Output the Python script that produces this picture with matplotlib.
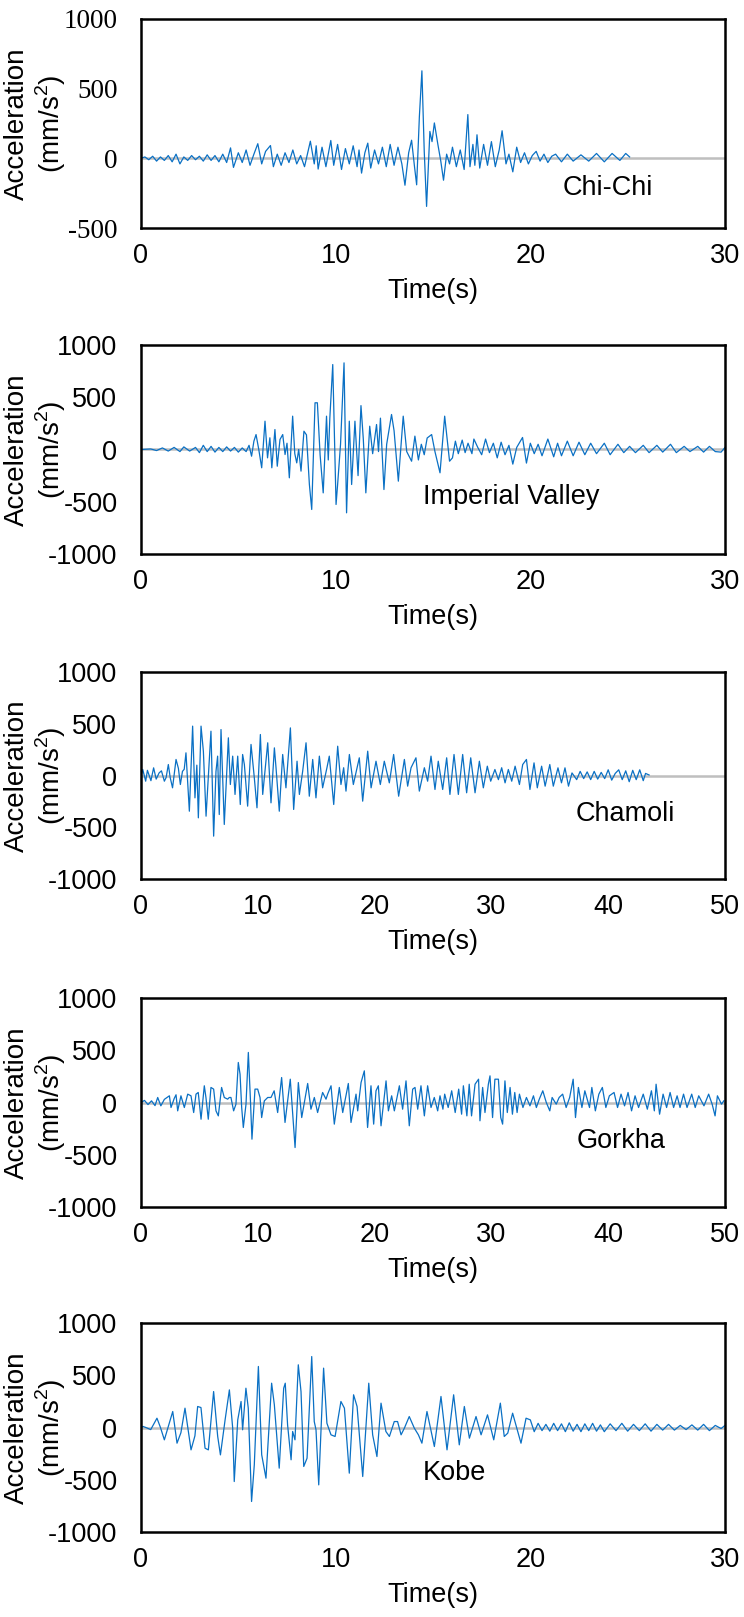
import matplotlib
matplotlib.use('Agg')
import matplotlib.pyplot as plt

plt.rcParams['font.family'] = ['Liberation Sans', 'DejaVu Sans']
plt.rcParams['font.size'] = 19.5
plt.rcParams['axes.unicode_minus'] = False
plt.rcParams['mathtext.fontset'] = 'custom'
plt.rcParams['mathtext.rm'] = 'Liberation Sans'

# (time s, acceleration mm/s2)
chichi = [(0.0, 0), (0.2, 10), (0.4, -10), (0.6, 15), (0.8, -20), (1.0, 10), (1.2, -15), (1.4, 20),
          (1.6, -25), (1.8, 30), (2.0, -40), (2.2, 10), (2.4, -15), (2.6, 20), (2.8, -10), (3.0, 15),
          (3.2, -20), (3.4, 25), (3.6, -15), (3.8, 20), (4.0, -25), (4.2, 30), (4.4, -30), (4.6, 75),
          (4.75, -65), (5.0, 40), (5.2, -30), (5.4, 60), (5.6, -50), (5.8, 30), (6.0, 105), (6.2, -40),
          (6.4, 50), (6.65, 92), (6.8, -60), (7.0, 30), (7.2, -50), (7.4, 40), (7.6, -30), (7.8, 60),
          (8.0, -40), (8.2, 20), (8.4, -60), (8.7, 123), (8.9, -40), (9.0, 90), (9.1, -77), (9.3, 80),
          (9.5, -60), (9.75, 128), (9.9, -50), (10.1, 100), (10.3, -80), (10.5, 70), (10.7, -40),
          (10.9, 90), (11.1, -60), (11.2, 60), (11.33, -106), (11.5, 40), (11.65, 109), (11.8, -70),
          (12.0, 60), (12.2, -40), (12.4, 80), (12.6, -60), (12.8, 100), (13.0, -50), (13.2, 80),
          (13.4, -40), (13.56, -193), (13.75, 40), (13.9, 130), (14.05, -60), (14.16, -190),
          (14.3, 300), (14.43, 628), (14.55, 50), (14.67, -345), (14.84, 193), (14.95, 120),
          (15.07, 254), (15.25, 100), (15.4, -20), (15.54, -157), (15.7, 30), (15.85, -40), (16.0, 80),
          (16.2, -60), (16.4, 60), (16.6, -80), (16.79, 314), (16.9, -60), (17.05, 100), (17.15, -50),
          (17.26, 169), (17.4, -70), (17.6, 100), (17.8, -50), (18.0, 120), (18.2, -60), (18.4, 60),
          (18.55, 198), (18.75, -40), (18.9, 30), (19.1, -97), (19.3, 80), (19.5, -30), (19.7, 40),
          (19.9, -40), (20.1, 20), (20.3, 50), (20.5, -20), (20.7, 30), (20.9, -30), (21.1, 15),
          (21.3, 30), (21.6, -25), (21.9, 30), (22.2, -20), (22.6, 25), (23.0, -20), (23.4, 35),
          (23.8, -25), (24.2, 35), (24.6, -15), (24.9, 35), (25.1, 10)]

imperial = [(0.0, 0), (0.5, 5), (0.8, -10), (1.1, 15), (1.4, -15), (1.7, 20), (2.0, -20), (2.2, 25),
            (2.5, -15), (2.8, 20), (3.0, -30), (3.2, 40), (3.4, -20), (3.6, 30), (3.8, -25), (4.0, 20),
            (4.2, -20), (4.4, 25), (4.6, -15), (4.8, 20), (5.0, -25), (5.2, 15), (5.4, -20), (5.55, 40),
            (5.68, -64), (5.8, 80), (5.91, 143), (6.05, 0), (6.2, -175), (6.37, 271), (6.5, -80),
            (6.62, 112), (6.72, -175), (6.88, 191), (7.0, -160), (7.14, 96), (7.28, 143), (7.4, -48),
            (7.5, 60), (7.62, -271), (7.79, 319), (7.9, -40), (8.0, -128), (8.1, 0), (8.22, -207),
            (8.37, 175), (8.5, 140), (8.65, -335), (8.77, -574), (8.94, 447), (9.06, 447), (9.2, -50),
            (9.36, -415), (9.53, 319), (9.62, -100), (9.7, 300), (9.85, 813), (10.02, -526),
            (10.1, -335), (10.25, 50), (10.43, 829), (10.56, -606), (10.7, 271), (10.82, -335),
            (10.99, 271), (11.15, -250), (11.3, 420), (11.42, 100), (11.55, -415), (11.75, 223),
            (11.9, -40), (12.1, 239), (12.2, -20), (12.3, 300), (12.48, -383), (12.62, 50),
            (12.87, 335), (13.0, 180), (13.22, -303), (13.47, 319), (13.65, -20), (13.9, -112),
            (14.07, 128), (14.25, -100), (14.4, 50), (14.55, -50), (14.7, 110), (14.93, 143),
            (15.1, -20), (15.36, -223), (15.6, 319), (15.85, -112), (16.0, -80), (16.15, 80),
            (16.3, -40), (16.5, 90), (16.65, -30), (16.8, 60), (17.0, -40), (17.1, 100), (17.3, 20),
            (17.5, -50), (17.7, 100), (17.9, -30), (18.1, 60), (18.3, -80), (18.5, 70), (18.7, -50),
            (18.9, 40), (19.1, -140), (19.3, 20), (19.6, 115), (19.8, -130), (20.0, 60), (20.2, -40),
            (20.4, 50), (20.6, -60), (20.9, 100), (21.2, -70), (21.4, 60), (21.6, -60), (21.9, 80),
            (22.2, -60), (22.5, 70), (22.8, -50), (23.1, 60), (23.4, -40), (23.8, 60), (24.1, -50),
            (24.5, 50), (24.8, -30), (25.1, 30), (25.4, -30), (25.8, 40), (26.1, -30), (26.5, 40),
            (26.8, -25), (27.2, 50), (27.5, -30), (27.9, 30), (28.2, -20), (28.6, 30), (28.9, -25),
            (29.2, 30), (29.5, -20), (29.8, -25), (30.0, 20)]

chamoli = [(0.0, 0), (0.15, 58), (0.4, -55), (0.55, 50), (0.85, -50), (1.08, 74), (1.3, -35),
           (1.55, 25), (1.75, 45), (2.0, -55), (2.15, -20), (2.34, 106), (2.5, -20), (2.7, -119),
           (3.0, 155), (3.2, 70), (3.37, -87), (3.55, 40), (3.7, 60), (3.85, 219), (4.14, -345),
           (4.42, 477), (4.62, -216), (4.78, 100), (4.91, -409), (5.14, 477), (5.34, 235),
           (5.57, -393), (5.99, 428), (6.22, -586), (6.42, 40), (6.56, 187), (6.7, -377), (6.85, 444),
           (7.13, -473), (7.48, 364), (7.65, -87), (7.85, 187), (8.05, -183), (8.28, 187),
           (8.5, -280), (8.7, 203), (8.85, 106), (9.13, -296), (9.42, 300), (9.7, -20), (9.93, -312),
           (10.22, 396), (10.42, -183), (10.85, 316), (11.13, -264), (11.42, 267), (11.56, 75),
           (11.84, -345), (12.13, 203), (12.41, -119), (12.79, 460), (13.07, -328), (13.36, 138),
           (13.56, -183), (13.84, 40), (14.13, 316), (14.41, -200), (14.7, 155), (14.98, -216),
           (15.27, 187), (15.55, -119), (15.92, 75), (16.12, 187), (16.5, -280), (16.84, 283),
           (17.12, -87), (17.35, 75), (17.55, -151), (17.84, 203), (18.18, -87), (18.69, 171),
           (18.98, -248), (19.41, 235), (19.7, -119), (20.12, 138), (20.49, -87), (20.83, 138),
           (21.26, -71), (21.63, 203), (22.06, -200), (22.55, 155), (22.83, -103), (23.12, 75),
           (23.54, 171), (23.83, -151), (24.26, 75), (24.54, -55), (24.83, 187), (25.17, -135),
           (25.45, 138), (25.83, -135), (26.17, 171), (26.45, -183), (26.8, 203), (27.17, -183),
           (27.54, 203), (27.88, -167), (28.23, 171), (28.6, -167), (28.97, 138), (29.31, -119),
           (29.65, 90), (29.94, -55), (30.3, 58), (30.6, -40), (30.88, 75), (31.17, -71),
           (31.45, 58), (31.74, -55), (32.03, 90), (32.4, -87), (32.68, 106), (33.0, 155),
           (33.3, -135), (33.65, 122), (33.93, -119), (34.3, 90), (34.6, -103), (35.0, 106),
           (35.3, -103), (35.7, 74), (36.0, -71), (36.3, 74), (36.6, -103), (36.9, 25), (37.3, -40),
           (37.6, 40), (37.9, -30), (38.2, 35), (38.5, -40), (38.8, 40), (39.1, -35), (39.4, 30),
           (39.7, -30), (40.0, 55), (40.3, -45), (40.6, 20), (40.9, 55), (41.2, -40), (41.5, 45),
           (41.8, -60), (42.1, 50), (42.4, -40), (42.7, 55), (43.0, -50), (43.2, 20), (43.5, 5)]

gorkha = [(0.0, 0), (0.3, 20), (0.6, -20), (0.9, 16), (1.2, -30), (1.43, 48), (1.7, -32), (2.0, 30),
          (2.43, 64), (2.57, -48), (2.85, 40), (3.0, 74), (3.14, -80), (3.42, 64), (3.71, -48),
          (4.0, 80), (4.28, 64), (4.51, -96), (4.71, 80), (4.9, 96), (5.14, -160), (5.42, 160),
          (5.56, 48), (5.76, -160), (5.99, 144), (6.22, 128), (6.42, -80), (6.62, -128), (6.9, 144),
          (7.13, 48), (7.42, 32), (7.56, 48), (7.7, 48), (7.93, -80), (8.13, -16), (8.33, 383),
          (8.48, 271), (8.62, -48), (8.76, -239), (8.99, -16), (9.19, 479), (9.36, 48), (9.5, -351),
          (9.76, 128), (9.99, 128), (10.19, 48), (10.33, -144), (10.56, 16), (10.85, 48),
          (11.13, 48), (11.4, 112), (11.7, -96), (12.04, 239), (12.33, -191), (12.78, 223),
          (13.19, -431), (13.47, 191), (13.76, -144), (14.27, 182), (14.55, -64), (14.84, 48),
          (15.12, -96), (15.55, 96), (15.84, 32), (15.98, 80), (16.27, 160), (16.55, -207),
          (16.98, 144), (17.27, -96), (17.75, 182), (17.98, -191), (18.41, 80), (18.55, -80),
          (18.84, 191), (19.12, 303), (19.4, -239), (19.69, 160), (19.92, -207), (20.12, 112),
          (20.32, 160), (20.55, -223), (20.98, 207), (21.18, -80), (21.46, 64), (21.69, -80),
          (22.12, 160), (22.4, -64), (22.69, 207), (22.97, -223), (23.26, 128), (23.46, 144),
          (23.69, -64), (23.97, 160), (24.26, -128), (24.54, 160), (24.83, -48), (25.11, 48),
          (25.4, -80), (25.6, 64), (25.85, -64), (26.0, 80), (26.3, -48), (26.6, 112), (26.9, -96),
          (27.2, 128), (27.45, -112), (27.6, 160), (27.9, -128), (28.1, 175), (28.3, -128),
          (28.6, 175), (28.9, 223), (29.02, -175), (29.25, 144), (29.45, -96), (29.74, 175),
          (29.88, 255), (30.1, -144), (30.3, 223), (30.6, 223), (30.8, -144), (30.96, -207),
          (31.16, 207), (31.36, -96), (31.6, 144), (31.8, -112), (32.0, 96), (32.2, -96),
          (32.4, 80), (32.7, -48), (33.0, 48), (33.3, -32), (33.6, 64), (33.85, -48), (34.1, 32),
          (34.4, 112), (34.7, 0), (35.0, -80), (35.2, 48), (35.55, -16), (35.8, 48), (36.1, 80),
          (36.4, -48), (36.7, 48), (37.0, 223), (37.2, -144), (37.45, 144), (37.75, -48),
          (38.0, 112), (38.4, -48), (38.6, 144), (38.9, -80), (39.2, 80), (39.5, 144), (39.8, -48),
          (40.1, 64), (40.5, 96), (40.8, -48), (41.1, 80), (41.4, -32), (41.7, 96), (42.0, -80),
          (42.3, 64), (42.6, -48), (43.0, 80), (43.35, -64), (43.7, 112), (43.95, -80), (44.1, 175),
          (44.4, -112), (44.7, 80), (45.0, -48), (45.3, 96), (45.6, -48), (45.9, 64), (46.15, -48),
          (46.45, 80), (46.75, -48), (47.15, 80), (47.45, -48), (47.75, 64), (48.2, -32), (48.6, 80),
          (48.9, -16), (49.15, -128), (49.35, 64), (49.7, -16), (49.9, 16)]

kobe = [(0.0, 0), (0.1, 10), (0.25, 0), (0.5, -20), (0.82, 89), (1.0, 0), (1.2, -118), (1.63, 153),
        (1.85, -150), (2.05, -50), (2.26, 185), (2.57, -214), (2.77, -80), (2.91, 201), (3.08, 191),
        (3.29, -198), (3.46, -214), (3.73, 344), (3.94, -86), (4.08, -262), (4.32, 73), (4.54, 360),
        (4.71, -6), (4.79, -517), (4.97, 73), (5.14, 249), (5.22, -22), (5.39, 376), (5.51, 185),
        (5.68, -708), (5.82, -357), (6.03, 584), (6.2, -261), (6.42, -485), (6.71, 424), (6.85, 217),
        (7.1, -389), (7.33, 376), (7.41, 424), (7.53, 25), (7.71, -309), (7.79, -38), (7.91, -118),
        (8.08, 600), (8.22, 344), (8.36, -373), (8.53, -294), (8.77, 679), (8.9, 57), (8.99, -22),
        (9.13, -549), (9.38, 568), (9.55, 41), (9.76, -70), (9.97, -86), (10.27, 249), (10.45, 185),
        (10.7, -437), (10.92, 313), (11.1, 201), (11.39, -469), (11.7, 424), (11.9, -70),
        (12.12, -278), (12.33, 233), (12.58, -38), (12.76, -86), (13.01, 57), (13.18, 57),
        (13.36, -70), (13.53, -6), (13.78, 105), (14.04, -6), (14.25, -70), (14.43, -150),
        (14.69, 153), (15.07, -182), (15.41, 297), (15.72, -214), (16.06, 313), (16.35, -166),
        (16.61, 201), (16.87, -102), (17.21, 105), (17.47, -70), (17.8, 121), (18.12, -118),
        (18.46, 233), (18.66, -86), (18.84, -54), (19.09, 137), (19.52, -150), (19.78, 89),
        (20.0, 73), (20.2, -40), (20.4, 40), (20.6, -30), (20.8, 30), (21.0, -35), (21.2, 40),
        (21.4, -30), (21.6, 35), (21.8, -40), (22.0, 45), (22.2, -35), (22.4, 30), (22.6, -40),
        (22.8, 35), (23.0, -30), (23.2, 40), (23.4, -35), (23.6, 25), (23.8, -40), (24.1, 35),
        (24.4, -30), (24.7, 40), (25.0, -35), (25.3, 30), (25.6, -30), (25.9, 35), (26.2, -35),
        (26.5, 30), (26.8, -25), (27.1, 30), (27.4, -25), (27.7, 20), (28.0, -20), (28.3, 25),
        (28.6, -25), (28.9, 30), (29.2, -30), (29.5, 20), (29.8, -10), (30.0, 20)]

names = ['Chi-Chi', 'Imperial Valley', 'Chamoli', 'Gorkha', 'Kobe']
records = [chichi, imperial, chamoli, gorkha, kobe]
x_max = [30, 30, 50, 50, 30]
y_ticks = [[-500, 0, 500, 1000]] + [[-1000, -500, 0, 500, 1000]] * 4
name_pos = [(24.0, -210), (19.0, -452), (41.5, -373), (41.1, -364), (16.1, -440)]

# axes boxes in pixels (top, bottom) on a 744 x 1617 canvas
W, H = 744, 1617
boxes = [(19, 228), (345, 554), (672, 879), (998, 1207), (1323, 1532)]

fig = plt.figure(figsize=(W / 100, H / 100), dpi=100)

for i in range(5):
    top, bot = boxes[i]
    ax = fig.add_axes([141 / W, 1 - bot / H, 584 / W, (bot - top) / H])
    t, a = zip(*records[i])
    ax.axhline(0, color='#BFBFBF', lw=1.8, zorder=1)
    ax.plot(t, a, color='#0A70C4', lw=0.9, zorder=2)
    ax.set_xlim(0, x_max[i])
    ax.set_ylim(y_ticks[i][0], y_ticks[i][-1])
    ax.set_xticks(range(0, x_max[i] + 1, 10))
    ax.set_yticks(y_ticks[i])
    ax.tick_params(length=0)
    ax.tick_params(axis='y', pad=17)
    ax.tick_params(axis='x', pad=11)
    if i == 0:
        for lab in ax.get_yticklabels():
            lab.set_fontfamily('Liberation Serif')
    for s in ax.spines.values():
        s.set_linewidth(1.8)
        s.set_color('black')
    ax.set_xlabel('Time(s)', labelpad=6)
    ax.set_ylabel('Acceleration\n(mm/s$^2$)', fontsize=20, linespacing=1.15)
    ax.yaxis.set_label_coords(-0.125, 0.5)
    ax.text(name_pos[i][0], name_pos[i][1], names[i], ha='center', va='center')

plt.savefig('out.png', dpi=100)
